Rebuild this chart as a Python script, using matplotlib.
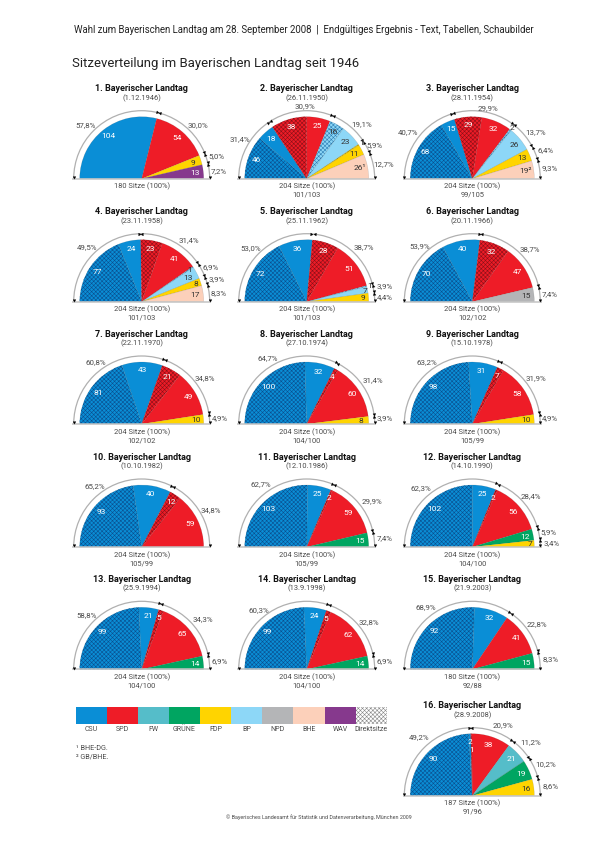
import matplotlib
matplotlib.use("Agg")
import numpy as np
import matplotlib.pyplot as plt
from matplotlib.patches import Wedge, Rectangle, Arc

plt.rcParams['font.family'] = ['Roboto', 'Liberation Sans', 'DejaVu Sans']
plt.rcParams['hatch.linewidth'] = 0.4

# data, one block per Landtag
dates = ["1.12.1946", "26.11.1950", "28.11.1954", "23.11.1958", "25.11.1962", "20.11.1966",
         "22.11.1970", "27.10.1974", "15.10.1978", "10.10.1982", "12.10.1986", "14.10.1990",
         "25.9.1994", "13.9.1998", "21.9.2003", "28.9.2008"]
totals = [180, 204, 204, 204, 204, 204, 204, 204, 204, 204, 204, 204, 204, 204, 180, 187]
splits = ["", "101/103", "99/105", "101/103", "101/103", "102/102", "102/102", "104/100",
          "105/99", "105/99", "105/99", "104/100", "104/100", "104/100", "92/88", "91/96"]

parties_1 = ["CSU", "SPD", "FDP", "WAV"]
direct_1 = [0, 0, 0, 0]
lists_1 = [104, 54, 9, 13]
pct_1 = ["57,8%", "30,0%", "5,0%", "7,2%"]

parties_2 = ["CSU", "SPD", "BP", "FDP", "BHE"]
direct_2 = [46, 38, 16, 1, 0]
lists_2 = [18, 25, 23, 11, 26]
pct_2 = ["31,4%", "30,9%", "19,1%", "5,9%", "12,7%"]

parties_3 = ["CSU", "SPD", "BP", "FDP", "BHE"]
direct_3 = [68, 29, 2, 0, 0]
lists_3 = [15, 32, 26, 13, 19]
pct_3 = ["40,7%", "29,9%", "13,7%", "6,4%", "9,3%"]

parties_4 = ["CSU", "SPD", "BP", "FDP", "BHE"]
direct_4 = [77, 23, 1, 0, 0]
lists_4 = [24, 41, 13, 8, 17]
pct_4 = ["49,5%", "31,4%", "6,9%", "3,9%", "8,3%"]

parties_5 = ["CSU", "SPD", "BP", "FDP"]
direct_5 = [72, 28, 1, 0]
lists_5 = [36, 51, 7, 9]
pct_5 = ["53,0%", "38,7%", "3,9%", "4,4%"]

parties_6 = ["CSU", "SPD", "NPD"]
direct_6 = [70, 32, 0]
lists_6 = [40, 47, 15]
pct_6 = ["53,9%", "38,7%", "7,4%"]

parties_7 = ["CSU", "SPD", "FDP"]
direct_7 = [81, 21, 0]
lists_7 = [43, 49, 10]
pct_7 = ["60,8%", "34,8%", "4,9%"]

parties_8 = ["CSU", "SPD", "FDP"]
direct_8 = [100, 4, 0]
lists_8 = [32, 60, 8]
pct_8 = ["64,7%", "31,4%", "3,9%"]

parties_9 = ["CSU", "SPD", "FDP"]
direct_9 = [98, 7, 0]
lists_9 = [31, 58, 10]
pct_9 = ["63,2%", "31,9%", "4,9%"]

parties_10 = ["CSU", "SPD"]
direct_10 = [93, 12]
lists_10 = [40, 59]
pct_10 = ["65,2%", "34,8%"]

parties_11 = ["CSU", "SPD", "GRÜNE"]
direct_11 = [103, 2, 0]
lists_11 = [25, 59, 15]
pct_11 = ["62,7%", "29,9%", "7,4%"]

parties_12 = ["CSU", "SPD", "GRÜNE", "FDP"]
direct_12 = [102, 2, 0, 0]
lists_12 = [25, 56, 12, 7]
pct_12 = ["62,3%", "28,4%", "5,9%", "3,4%"]

parties_13 = ["CSU", "SPD", "GRÜNE"]
direct_13 = [99, 5, 0]
lists_13 = [21, 65, 14]
pct_13 = ["58,8%", "34,3%", "6,9%"]

parties_14 = ["CSU", "SPD", "GRÜNE"]
direct_14 = [99, 5, 0]
lists_14 = [24, 62, 14]
pct_14 = ["60,3%", "32,8%", "6,9%"]

parties_15 = ["CSU", "SPD", "GRÜNE"]
direct_15 = [92, 0, 0]
lists_15 = [32, 41, 15]
pct_15 = ["68,9%", "22,8%", "8,3%"]

parties_16 = ["CSU", "SPD", "FW", "GRÜNE", "FDP"]
direct_16 = [90, 1, 0, 0, 0]
lists_16 = [2, 38, 21, 19, 16]
pct_16 = ["49,2%", "20,9%", "11,2%", "10,2%", "8,6%"]

legend_names = ["CSU", "SPD", "FW", "GRÜNE", "FDP", "BP", "NPD", "BHE", "WAV"]

all_parties = [parties_1, parties_2, parties_3, parties_4, parties_5, parties_6, parties_7, parties_8,
               parties_9, parties_10, parties_11, parties_12, parties_13, parties_14, parties_15, parties_16]
all_direct = [direct_1, direct_2, direct_3, direct_4, direct_5, direct_6, direct_7, direct_8,
              direct_9, direct_10, direct_11, direct_12, direct_13, direct_14, direct_15, direct_16]
all_lists = [lists_1, lists_2, lists_3, lists_4, lists_5, lists_6, lists_7, lists_8,
             lists_9, lists_10, lists_11, lists_12, lists_13, lists_14, lists_15, lists_16]
all_pct = [pct_1, pct_2, pct_3, pct_4, pct_5, pct_6, pct_7, pct_8,
           pct_9, pct_10, pct_11, pct_12, pct_13, pct_14, pct_15, pct_16]

# styles and layout
colors = {"CSU": "#0a8ed6", "SPD": "#ee1c27", "FW": "#55bdc9", "GRÜNE": "#00a561", "FDP": "#ffd400",
          "BP": "#8dd7f7", "NPD": "#b4b5b7", "BHE": "#fcd0ba", "WAV": "#86398d"}
hatch_colors = {"CSU": "#0a4f8f", "SPD": "#8a1018", "BP": "#2f7fb5", "FDP": "#a08500"}
dark_text = ["FDP", "BP", "NPD", "BHE"]
note_marks = {(2, "BHE"): "¹", (3, "BHE"): "²"}

# label radius where the small seat numbers sit off the usual ring
label_r = {(2, "FDP", "d"): 66, (3, "BP", "d"): 65, (4, "BP", "d"): 58, (4, "BP", "l"): 52, (4, "FDP", "l"): 57,
           (5, "BP", "d"): 65, (5, "BP", "l"): 59, (5, "FDP", "l"): 56, (16, "SPD", "d"): 46, (12, "FDP", "l"): 58}

col_x = [141.7, 306.7, 472.3]
row_y = [178.7, 301.7, 424.0, 547.0, 669.3]
centers = [(col_x[c], row_y[r]) for r in range(5) for c in range(3)] + [(472.3, 795.7)]

# percent label offsets from the centre, px, x right and y up
pct_xy = [
    [(-56, 54), (56, 54), (75, 23), (77, 8)],
    [(-67, 40), (-2, 73), (55, 55), (68, 34), (77, 15)],
    [(-64, 47), (16, 71), (63, 47), (73, 29), (77, 11)],
    [(-55, 55), (47, 62), (69, 35), (75, 23), (77, 9)],
    [(-56, 54), (57, 55), (78, 16), (78, 5)],
    [(-53, 56), (58, 53), (77, 8)],
    [(-46, 62), (63, 46), (78, 6)],
    [(-39, 66), (66, 44), (78, 6)],
    [(-45, 62), (64, 46), (78, 6)],
    [(-47, 61), (69, 37)],
    [(-46, 63), (65, 46), (78, 9)],
    [(-51, 59), (59, 51), (76, 15), (79, 4)],
    [(-55, 54), (61, 50), (78, 8)],
    [(-48, 59), (62, 47), (78, 8)],
    [(-46, 62), (65, 45), (78, 10)],
    [(-53, 59), (31, 71), (58, 54), (73, 32), (78, 10)],
]

R = 62.0
R_ARC = 68.0
H = 849
GREY = "#4a4a4a"

fig = plt.figure(figsize=(6, 8.49), dpi=100)
ax = fig.add_axes([0, 0, 1, 1])
ax.set_xlim(0, 600)
ax.set_ylim(0, H)
ax.axis("off")


def top(y):
    return H - y


def draw_chart(i, cx, cy):
    n = i + 1
    parties = all_parties[i]
    direct = all_direct[i]
    lists = all_lists[i]
    total = totals[i]
    y0 = top(cy)
    per_seat = 180.0 / total

    ax.text(cx, y0 + 90, f"{n}. Bayerischer Landtag", ha="center", va="center",
            fontsize=6.5, fontweight="bold", color="#111111")
    ax.text(cx, y0 + 80.7, f"({dates[i]})", ha="center", va="center", fontsize=5.4, color=GREY)
    ax.text(cx, y0 - 8, f"{total} Sitze (100%)", ha="center", va="center", fontsize=5.4, color=GREY)
    if splits[i]:
        ax.text(cx, y0 - 16.5, splits[i], ha="center", va="center", fontsize=5.4, color=GREY)

    # seats go clockwise from the left end, direct seats first
    seat = 0
    bounds = [180.0]
    for party, d, l in zip(parties, direct, lists):
        for count, kind in ((d, "d"), (l, "l")):
            if count == 0:
                continue
            a1 = 180.0 - seat * per_seat
            a0 = 180.0 - (seat + count) * per_seat
            if kind == "d":
                w = Wedge((cx, y0), R, a0, a1, facecolor=colors[party],
                          edgecolor=hatch_colors[party], hatch="xxxxxxxx", linewidth=0)
            else:
                w = Wedge((cx, y0), R, a0, a1, facecolor=colors[party], edgecolor="none")
            ax.add_patch(w)
            ax.add_patch(Wedge((cx, y0), R, a0, a1, facecolor="none", edgecolor="#33333333", linewidth=0.35))
            mid = np.radians((a0 + a1) / 2)
            r = label_r.get((n, party, kind), 54)
            txt = str(count) + note_marks.get((n, party), "") * (kind == "l")
            if party in dark_text:
                tc = "#333333"
            else:
                tc = "white"
            if (n, party) == (3, "BP") and kind == "d":
                tc = "#333333"
            ax.text(cx + r * np.cos(mid), y0 + r * np.sin(mid) - 0.3, txt, ha="center", va="center",
                    fontsize=6.0, color=tc)
            seat += count
        bounds.append(180.0 - seat * per_seat)

    # outer arc and base line
    ax.add_patch(Arc((cx, y0), 2 * R_ARC, 2 * R_ARC, theta1=0, theta2=180, color="#b0b0b0", linewidth=0.9))
    ax.plot([cx - R_ARC - 1.5, cx + R_ARC + 1.5], [y0, y0], color="#c4c4c4", linewidth=1.1, solid_capstyle="butt")

    # arrowheads at both ends of every party's stretch of the arc
    for hi, lo in zip(bounds[:-1], bounds[1:]):
        for ang, rot in ((hi - 1.4, hi), (lo + 1.4, lo - 180)):
            t = np.radians(ang)
            ax.plot(cx + R_ARC * np.cos(t), y0 + R_ARC * np.sin(t), marker=(3, 0, rot),
                    markersize=2.4, color="black", markeredgewidth=0.2)

    for label, (dx, dy) in zip(all_pct[i], pct_xy[i]):
        ax.text(cx + dx, y0 + dy, label, ha="center", va="center", fontsize=5.7, color=GREY)


for i, (cx, cy) in enumerate(centers):
    draw_chart(i, cx, cy)

# header
ax.text(74, top(29.5), "Wahl zum Bayerischen Landtag am 28. September 2008  |  Endgültiges Ergebnis - Text, Tabellen, Schaubilder",
        ha="left", va="center", fontsize=6.9, color="#222222")
ax.text(72, top(63), "Sitzeverteilung im Bayerischen Landtag seit 1946", ha="left", va="center",
        fontsize=9.45, color="#222222")

# legend
sw_x = 75.7
sw_w = 31.1
for k, name in enumerate(legend_names):
    ax.add_patch(Rectangle((sw_x + k * sw_w, top(723.7)), sw_w, 17, facecolor=colors[name], edgecolor="none"))
    ax.text(sw_x + (k + 0.5) * sw_w, top(729.3), name, ha="center", va="center", fontsize=5.0, color=GREY)
k = len(legend_names)
ax.add_patch(Rectangle((sw_x + k * sw_w, top(723.7)), sw_w, 17, facecolor="white", edgecolor="#888888",
                       hatch="xxxxxxxx", linewidth=0))
ax.text(sw_x + (k + 0.5) * sw_w, top(729.3), "Direktsitze", ha="center", va="center", fontsize=5.0, color=GREY)

ax.text(76, top(748), "¹ BHE-DG.", ha="left", va="center", fontsize=5.2, color=GREY)
ax.text(76, top(757), "² GB/BHE.", ha="left", va="center", fontsize=5.2, color=GREY)
ax.text(412, top(817), "© Bayerisches Landesamt für Statistik und Datenverarbeitung, München 2009", ha="right",
        va="center", fontsize=3.9, color=GREY)

fig.savefig("out.png", dpi=100, facecolor="white")
